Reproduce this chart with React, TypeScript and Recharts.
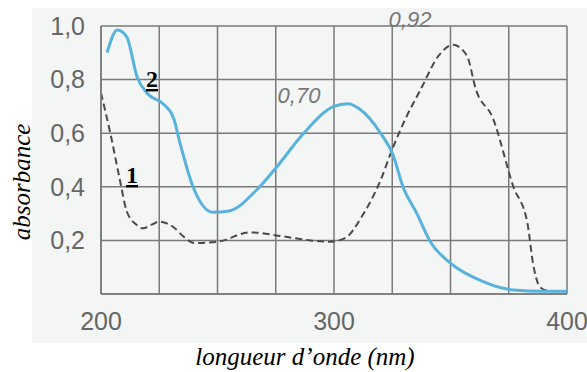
import { LineChart, Line, XAxis, YAxis, CartesianGrid } from "recharts";

// curve 2 (solid blue)
const nm2 = [202.6, 207, 211, 215.5, 219.7, 226.6, 231, 234, 239.5, 248, 255, 267, 275.5, 287, 300, 306, 311, 320, 325.3, 329.6, 335.6, 341, 350, 363, 377, 390, 400];
const abs2 = [0.9, 0.985, 0.96, 0.81, 0.75, 0.71, 0.66, 0.56, 0.4, 0.305, 0.31, 0.39, 0.475, 0.6, 0.7, 0.71, 0.69, 0.6, 0.52, 0.4, 0.3, 0.2, 0.115, 0.05, 0.015, 0.01, 0.01];

// curve 1 (dashed)
const nm1 = [200, 204, 208, 211, 215, 218, 222, 225, 231, 236, 240, 250, 264, 278, 290, 298, 305, 312, 320, 325, 331, 337, 345, 351, 357, 361, 368, 377, 383, 385.4, 388.4, 392, 400];
const abs1 = [0.75, 0.6, 0.43, 0.31, 0.26, 0.245, 0.26, 0.27, 0.25, 0.21, 0.19, 0.195, 0.23, 0.215, 0.2, 0.195, 0.21, 0.29, 0.425, 0.54, 0.66, 0.76, 0.89, 0.93, 0.89, 0.76, 0.66, 0.4, 0.265, 0.115, 0.026, 0.012, 0.01];

const xTicks = [200, 225, 250, 275, 300, 325, 350, 375, 400];
const xLabels = [200, 300, 400];
const yTicks = [0, 0.2, 0.4, 0.6, 0.8, 1.0];

const series2 = nm2.map((x, i) => ({ nm: x, a: abs2[i] }));
const series1 = nm1.map((x, i) => ({ nm: x, a: abs1[i] }));

const gridColor = "#7a7a7a";
const tickStyle = { fill: "#666", fontSize: 25, fontFamily: "Liberation Sans, Arial, sans-serif" };

export default function App() {
  return (
    <div style={{ position: "absolute", left: 0, top: 0, width: 587, height: 372, background: "#fff" }}>
      <div style={{ position: "absolute", left: 32, top: 8, width: 555, height: 335, background: "#f3f6f5" }} />
      <div style={{ position: "absolute", left: 0, top: 0 }}>
        <LineChart width={587} height={372} margin={{ top: 26, right: 20, left: 0, bottom: 0 }}>
          <CartesianGrid
            stroke={gridColor}
            strokeWidth={1.5}
            horizontalValues={yTicks}
            verticalValues={xTicks}
          />
          <XAxis
            dataKey="nm"
            type="number"
            domain={[200, 400]}
            ticks={xTicks}
            interval={0}
            height={78}
            tickSize={0}
            tickMargin={18}
            axisLine={{ stroke: gridColor, strokeWidth: 1.5 }}
            tickFormatter={(v: number) => (xLabels.includes(v) ? String(v) : "")}
            tick={tickStyle}
            allowDataOverflow
          />
          <YAxis
            type="number"
            domain={[0, 1]}
            ticks={yTicks}
            interval={0}
            width={101}
            tickSize={0}
            tickMargin={16}
            axisLine={{ stroke: gridColor, strokeWidth: 1.5 }}
            tickFormatter={(v: number) => (v === 0 ? "" : v.toFixed(1).replace(".", ","))}
            tick={tickStyle}
          />
          <Line
            data={series1}
            dataKey="a"
            type="monotone"
            stroke="#4a4a4a"
            strokeWidth={2}
            strokeDasharray="7 4"
            dot={false}
            isAnimationActive={false}
          />
          <Line
            data={series2}
            dataKey="a"
            type="monotone"
            stroke="#58b2dc"
            strokeWidth={3}
            dot={false}
            isAnimationActive={false}
          />
        </LineChart>
      </div>
      <svg width={587} height={372} style={{ position: "absolute", left: 0, top: 0, pointerEvents: "none" }}>
        <text x={299} y={103} fill="#777" fontSize={22} fontStyle="italic" fontFamily="Liberation Sans, Arial, sans-serif" textAnchor="middle">0,70</text>
        <text x={410} y={27} fill="#777" fontSize={22} fontStyle="italic" fontFamily="Liberation Sans, Arial, sans-serif" textAnchor="middle">0,92</text>
        <text x={152} y={87} fill="#000" fontSize={24} fontWeight="bold" fontFamily="Liberation Serif, Times New Roman, serif" textAnchor="middle" textDecoration="underline">2</text>
        <text x={132} y={183} fill="#000" fontSize={24} fontWeight="bold" fontFamily="Liberation Serif, Times New Roman, serif" textAnchor="middle" textDecoration="underline">1</text>
        <text x={305} y={365} fill="#000" fontSize={25} fontStyle="italic" fontFamily="Liberation Serif, Times New Roman, serif" textAnchor="middle">longueur d’onde (nm)</text>
        <text x={30} y={182} fill="#000" fontSize={25} fontStyle="italic" fontFamily="Liberation Serif, Times New Roman, serif" textAnchor="middle" transform="rotate(-90 30 182)">absorbance</text>
      </svg>
    </div>
  );
}
